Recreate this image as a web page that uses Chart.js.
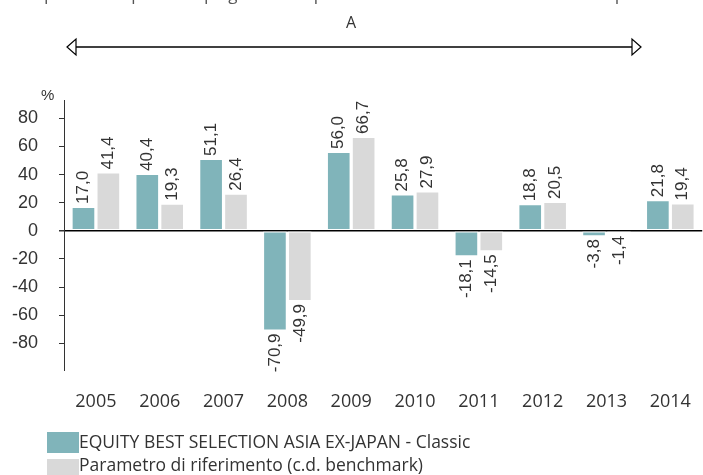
<!DOCTYPE html>
<html>
<head>
<meta charset="utf-8">
<script src="https://cdn.jsdelivr.net/npm/chart.js@4.4.0/dist/chart.umd.min.js"></script>
<style>
  html, body { margin: 0; padding: 0; background: #fff; overflow: hidden; }
  #wrap { position: relative; width: 703px; height: 475px; overflow: hidden; }
  #chart { position: absolute; left: 0; top: 0; }
  .txt { position: absolute; color: #333; font-family: "Open Sans", sans-serif; white-space: nowrap; }
  .box { position: absolute; width: 32px; height: 21px; }
</style>
</head>
<body>
<div id="wrap">
  <canvas id="chart" width="712" height="475"></canvas>
  <div class="txt" style="left:38px; top:-15px; font-size:17px; line-height:17px; color:#555;">questo comparto in quegli anni ha presentato caratteristiche diverse da quelle attuali</div>
  <div class="txt" style="left:346px; top:12px; font-size:16px; line-height:20px;">A</div>
  <svg style="position:absolute; left:0; top:0;" width="703" height="70">
    <line x1="68" y1="47" x2="640" y2="47" stroke="#000" stroke-width="1.5"/>
    <polygon points="67,47 76,39 76,55" fill="#fff" stroke="#000" stroke-width="1.2"/>
    <polygon points="641,47 632,39 632,55" fill="#fff" stroke="#000" stroke-width="1.2"/>
  </svg>
  <div class="txt" style="left:41px; top:86px; font-size:15px; line-height:18px; font-family:'Liberation Sans', sans-serif;">%</div>
  <div class="box" style="left:47px; top:432px; background:#80b4ba;"></div>
  <div class="txt" style="left:79px; top:430px; font-size:17.5px; line-height:22px;">EQUITY BEST SELECTION ASIA EX-JAPAN - Classic</div>
  <div class="box" style="left:47px; top:459px; background:#d9d9d9;"></div>
  <div class="txt" style="left:79px; top:453px; font-size:17.5px; line-height:22px;">Parametro di riferimento (c.d. benchmark)</div>
</div>
<script>
var years = ['2005', '2006', '2007', '2008', '2009', '2010', '2011', '2012', '2013', '2014'];
var fundValues = [17.0, 40.4, 51.1, -70.9, 56.0, 25.8, -18.1, 18.8, -3.8, 21.8];
var benchValues = [41.4, 19.3, 26.4, -49.9, 66.7, 27.9, -14.5, 20.5, -1.4, 19.4];
var yTicks = [-80, -60, -40, -20, 0, 20, 40, 60, 80];

// value labels, rotated, above positive bars and below negative ones
var barLabels = {
  id: 'barLabels',
  afterDatasetsDraw: function (chart) {
    var ctx = chart.ctx;
    ctx.save();
    ctx.font = '17px "Liberation Sans", Arial, sans-serif';
    ctx.fillStyle = '#333';
    ctx.textBaseline = 'middle';
    chart.data.datasets.forEach(function (ds, di) {
      var meta = chart.getDatasetMeta(di);
      meta.data.forEach(function (bar, i) {
        var v = ds.data[i];
        var txt = v.toFixed(1).replace('.', ',');
        ctx.save();
        ctx.translate(bar.x, bar.y + (v >= 0 ? -3 : 3));
        ctx.rotate(-Math.PI / 2);
        ctx.textAlign = v >= 0 ? 'left' : 'right';
        ctx.fillText(txt, 0, 0);
        ctx.restore();
      });
    });
    ctx.restore();
  }
};

new Chart(document.getElementById('chart'), {
  type: 'bar',
  data: {
    labels: years,
    datasets: [
      {
        label: 'EQUITY BEST SELECTION ASIA EX-JAPAN - Classic',
        data: fundValues,
        backgroundColor: '#80b4ba',
        borderColor: '#fff',
        borderWidth: 1,
        borderSkipped: false,
        categoryPercentage: 0.78,
        barPercentage: 0.95
      },
      {
        label: 'Parametro di riferimento (c.d. benchmark)',
        data: benchValues,
        backgroundColor: '#d9d9d9',
        borderColor: '#fff',
        borderWidth: 1,
        borderSkipped: false,
        categoryPercentage: 0.78,
        barPercentage: 0.95
      }
    ]
  },
  options: {
    responsive: false,
    animation: false,
    devicePixelRatio: 1,
    layout: { padding: { left: 0, right: 2, top: 100, bottom: 0 } },
    plugins: {
      legend: { display: false },
      tooltip: { enabled: false }
    },
    scales: {
      x: {
        grid: { display: false, drawTicks: false },
        border: { display: false },
        ticks: {
          color: '#333',
          padding: 21,
          font: { family: '"Open Sans", sans-serif', size: 18 }
        },
        afterFit: function (s) { s.height = 105; }
      },
      y: {
        min: -99,
        max: 93,
        afterBuildTicks: function (axis) {
          axis.ticks = yTicks.map(function (v) { return { value: v }; });
        },
        afterFit: function (s) { s.width = 64; },
        border: { display: true, color: '#333', width: 1 },
        grid: {
          drawOnChartArea: true,
          color: function (c) { return c.tick && c.tick.value === 0 ? '#000' : 'rgba(0,0,0,0)'; },
          lineWidth: function (c) { return c.tick && c.tick.value === 0 ? 1.5 : 1; },
          tickColor: '#333',
          tickLength: 5
        },
        ticks: {
          color: '#333',
          padding: 21,
          font: { family: '"Liberation Sans", Arial, sans-serif', size: 18 }
        }
      }
    }
  },
  plugins: [barLabels]
});
</script>
</body>
</html>
